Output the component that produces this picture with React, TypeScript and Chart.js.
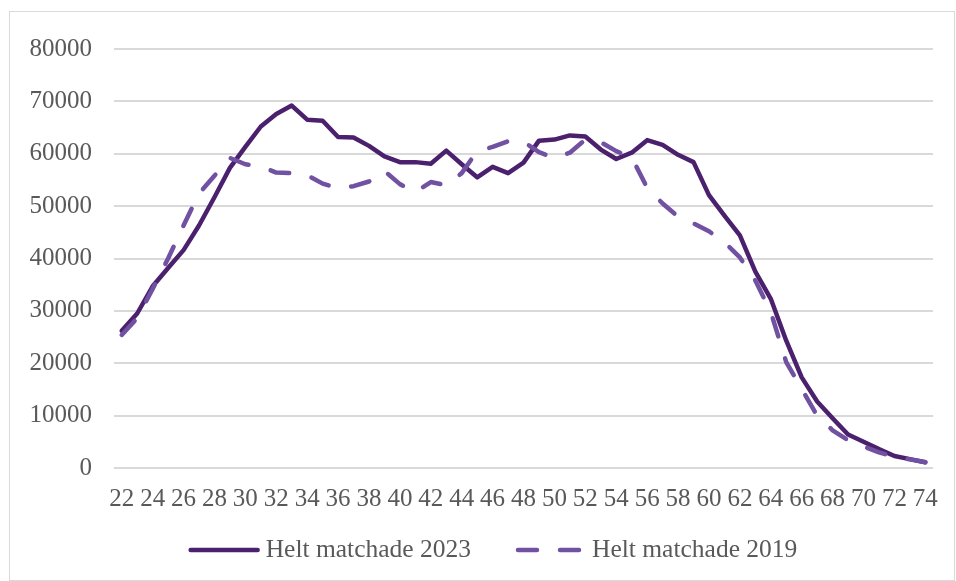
import React, { useEffect, useRef } from 'react';
import { Chart, registerables } from 'chart.js';

Chart.register(...registerables);

const ages = [
  '22', '23', '24', '25', '26', '27', '28', '29', '30', '31', '32', '33', '34', '35', '36', '37', '38',
  '39', '40', '41', '42', '43', '44', '45', '46', '47', '48', '49', '50', '51', '52', '53', '54', '55',
  '56', '57', '58', '59', '60', '61', '62', '63', '64', '65', '66', '67', '68', '69', '70', '71', '72',
  '73', '74',
];

const helt2023 = [
  26200, 29500, 34700, 38200, 41600, 46300, 51700, 57300, 61300, 65200, 67600, 69200, 66500, 66300,
  63200, 63100, 61500, 59500, 58400, 58400, 58100, 60600, 58000, 55500, 57500, 56300, 58300, 62500,
  62700, 63500, 63300, 60800, 59000, 60200, 62600, 61700, 59800, 58400, 52100, 48200, 44400, 37500,
  32300, 24300, 17300, 12700, 9500, 6400, 5000, 3600, 2300, 1700, 1100,
];

const helt2019 = [
  25400, 28600, 34200, 40000, 46300, 52400, 55800, 59200, 58000, 57600, 56400, 56300, 55900, 54300,
  53400, 53800, 54700, 56700, 54200, 52700, 54600, 54000, 56300, 60500, 61300, 62400, 62300, 60300,
  59200, 60200, 62700, 62200, 60500, 59300, 53500, 50500, 48000, 46700, 45200, 43100, 40200, 35800,
  29800, 20200, 15100, 10000, 7200, 5300, 4100, 3000, 2100, 1650, 1100,
];

const label2023 = 'Helt matchade 2023';
const label2019 = 'Helt matchade 2019';

const FONT = '"Liberation Serif", "Times New Roman", serif';
const TEXT = '#595959';
const GRID = '#D9D9D9';
const C2023 = '#4B216E';
const C2019 = '#7151A1';
const DASH = [19, 23];
const LINE_W = 4.5;

const bottomLegend = {
  id: 'bottomLegend',
  afterDraw(chart: any) {
    const ctx = chart.ctx as CanvasRenderingContext2D;
    const items = [
      { text: label2023, color: C2023, dash: [] as number[], len: 67, gap: 8 },
      { text: label2019, color: C2019, dash: DASH, len: 61, gap: 13 },
    ];
    const between = 47;
    ctx.save();
    ctx.font = `25.5px ${FONT}`;
    const widths = items.map((it) => it.len + it.gap + ctx.measureText(it.text).width);
    const total = widths.reduce((a, b) => a + b, 0) + between * (items.length - 1);
    const centerX = 484;
    const y = 538;
    let x = centerX - total / 2;
    items.forEach((it, i) => {
      ctx.beginPath();
      ctx.setLineDash(it.dash);
      ctx.lineCap = 'round';
      ctx.lineWidth = LINE_W;
      ctx.strokeStyle = it.color;
      ctx.moveTo(x, y);
      ctx.lineTo(x + it.len, y);
      ctx.stroke();
      ctx.setLineDash([]);
      ctx.fillStyle = TEXT;
      ctx.textAlign = 'left';
      ctx.textBaseline = 'middle';
      ctx.fillText(it.text, x + it.len + it.gap, y);
      x += widths[i] + between;
    });
    ctx.restore();
  },
};

export default function App() {
  const ref = useRef<HTMLCanvasElement>(null);

  useEffect(() => {
    document.body.style.overflow = 'hidden';
    const canvas = ref.current;
    if (!canvas) return;
    const chart = new Chart(canvas, {
      type: 'line',
      data: {
        labels: ages,
        datasets: [
          {
            label: label2019,
            data: helt2019,
            borderColor: C2019,
            backgroundColor: C2019,
            borderWidth: LINE_W,
            borderDash: DASH,
            borderCapStyle: 'round',
            borderJoinStyle: 'round',
            pointRadius: 0,
            pointHoverRadius: 0,
            tension: 0,
            fill: false,
          },
          {
            label: label2023,
            data: helt2023,
            borderColor: C2023,
            backgroundColor: C2023,
            borderWidth: LINE_W,
            borderCapStyle: 'round',
            borderJoinStyle: 'round',
            pointRadius: 0,
            pointHoverRadius: 0,
            tension: 0,
            fill: false,
          },
        ],
      },
      options: {
        animation: false,
        responsive: false,
        maintainAspectRatio: false,
        events: [],
        layout: { padding: { left: 16, right: 18, top: 29, bottom: 50 } },
        scales: {
          x: {
            type: 'category',
            offset: true,
            grid: { display: false, drawTicks: false },
            border: { display: false },
            ticks: {
              autoSkip: false,
              maxRotation: 0,
              minRotation: 0,
              padding: 16,
              color: TEXT,
              font: { family: FONT, size: 25 },
              callback: (_v: any, i: number) => (i % 2 === 0 ? ages[i] : ''),
            },
          },
          y: {
            min: 0,
            max: 80000,
            grid: { color: GRID, lineWidth: 2, drawTicks: false },
            border: { display: false },
            ticks: {
              stepSize: 10000,
              padding: 22,
              color: TEXT,
              font: { family: FONT, size: 25 },
              callback: (v: any) => String(v),
            },
            afterFit: (s: any) => {
              s.width = 88;
            },
          },
        },
        plugins: {
          tooltip: { enabled: false },
          title: { display: false },
          legend: { display: false },
        },
      },
      plugins: [bottomLegend],
    } as any);
    return () => chart.destroy();
  }, []);

  return (
    <div
      style={{
        position: 'absolute',
        left: 9,
        top: 11,
        width: 946,
        height: 570,
        boxSizing: 'border-box',
        border: `1px solid ${GRID}`,
        background: '#fff',
      }}
    >
      <canvas ref={ref} width={944} height={568} style={{ display: 'block', width: 944, height: 568 }} />
    </div>
  );
}
